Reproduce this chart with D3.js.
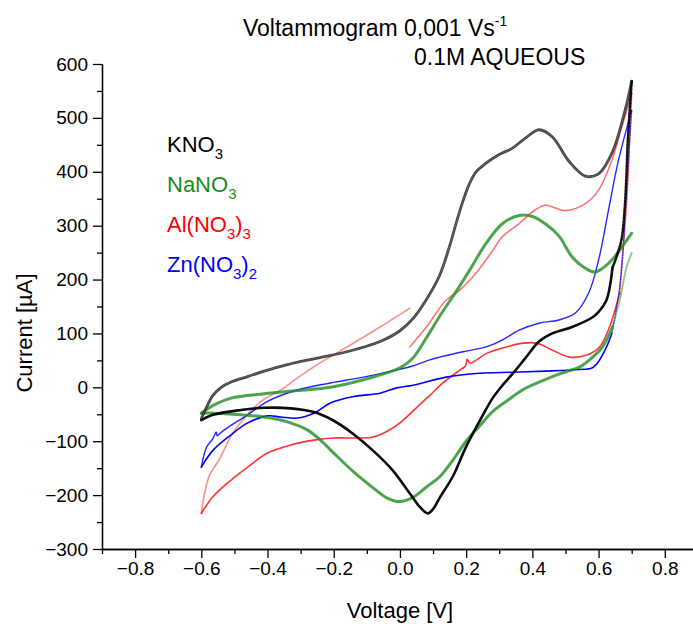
<!DOCTYPE html>
<html><head><meta charset="utf-8">
<script src="https://cdn.jsdelivr.net/npm/d3@7"></script>
<style>body{margin:0;background:#fff} text{font-family:Arial,"Liberation Sans",sans-serif;fill:#000}</style>
</head><body><svg id="c" width="693" height="624"></svg>
<script>
// ---- data (Voltage V, Current µA) ----
const knoForward = [[-0.6,-58],[-0.585,-38],[-0.565,-15],[-0.54,0],[-0.51,10],[-0.46,20],[-0.41,30],[-0.34,42],[-0.26,53],[-0.16,66],[-0.06,85],[0.0,105],[0.04,128],[0.08,163],[0.12,208],[0.15,262],[0.17,305],[0.19,345],[0.21,378],[0.23,400],[0.26,416],[0.3,432],[0.34,444],[0.38,463],[0.42,478],[0.46,465],[0.51,420],[0.56,392],[0.6,396],[0.64,434],[0.68,514],[0.7,568]];
const knoReverse = [[0.7,568],[0.694,514],[0.688,453],[0.684,390],[0.679,333],[0.67,277],[0.658,249],[0.642,222],[0.624,162],[0.6,140],[0.582,130],[0.52,112],[0.46,100],[0.42,85],[0.38,55],[0.34,25],[0.31,4],[0.28,-20],[0.25,-52],[0.2,-110],[0.16,-165],[0.12,-205],[0.1,-226],[0.084,-234],[0.06,-222],[0.03,-197],[-0.022,-154],[-0.082,-117],[-0.142,-86],[-0.2,-62],[-0.26,-46],[-0.33,-39],[-0.41,-38],[-0.48,-42],[-0.565,-51],[-0.6,-61]];
const naForward = [[-0.6,-48],[-0.56,-32],[-0.51,-20],[-0.41,-12],[-0.31,-6],[-0.21,0],[-0.11,14],[-0.04,27],[0.0,36],[0.04,55],[0.08,92],[0.12,132],[0.17,178],[0.21,217],[0.26,267],[0.31,304],[0.36,319],[0.40,317],[0.44,303],[0.48,281],[0.52,242],[0.56,221],[0.59,214],[0.63,230],[0.67,260],[0.70,286]];
const naReverse = [[0.7,249],[0.685,224],[0.664,162],[0.642,112],[0.612,75],[0.582,56],[0.543,38],[0.482,25],[0.422,10],[0.37,-5],[0.33,-22],[0.28,-45],[0.24,-72],[0.2,-100],[0.16,-135],[0.12,-166],[0.08,-185],[0.04,-204],[0.0,-212],[-0.04,-205],[-0.08,-187],[-0.14,-157],[-0.2,-122],[-0.24,-98],[-0.28,-79],[-0.34,-64],[-0.41,-55],[-0.48,-51],[-0.56,-48],[-0.6,-48]];
const alForwardA = [[-0.6,-234],[-0.59,-196],[-0.575,-163],[-0.545,-133],[-0.505,-85],[-0.46,-50],[-0.41,-22],[-0.36,-5],[-0.32,13],[-0.26,38],[-0.16,75],[-0.06,112],[0.03,147]];
const alForwardB = [[0.03,75],[0.08,112],[0.14,162],[0.18,180],[0.23,212],[0.28,254],[0.31,280],[0.36,304],[0.41,330],[0.44,338],[0.5,328],[0.56,341],[0.6,366],[0.64,421],[0.67,483],[0.7,545]];
const alReverse = [[0.7,545],[0.695,480],[0.69,400],[0.68,300],[0.67,230],[0.664,175],[0.633,112],[0.603,75],[0.564,60],[0.513,56],[0.461,69],[0.413,82],[0.371,82],[0.322,75],[0.262,63],[0.211,45],[0.203,52],[0.198,40],[0.181,32],[0.129,8],[0.09,-15],[0.06,-32],[0.0,-66],[-0.04,-82],[-0.08,-92],[-0.14,-94],[-0.2,-94],[-0.26,-98],[-0.33,-107],[-0.40,-122],[-0.46,-148],[-0.51,-172],[-0.565,-203],[-0.6,-234]];
const znForward = [[-0.6,-148],[-0.584,-111],[-0.565,-95],[-0.555,-83],[-0.552,-90],[-0.545,-86],[-0.514,-72],[-0.462,-52],[-0.40,-26],[-0.31,-5],[-0.21,8],[-0.11,19],[-0.01,32],[0.04,40],[0.09,51],[0.12,56],[0.19,66],[0.26,75],[0.31,88],[0.36,106],[0.42,119],[0.48,125],[0.53,138],[0.57,175],[0.60,236],[0.63,329],[0.66,421],[0.7,514]];
const znReverse = [[0.7,514],[0.69,420],[0.68,320],[0.67,220],[0.655,150],[0.64,100],[0.624,75],[0.6,48],[0.58,36],[0.54,33],[0.44,30],[0.34,28],[0.24,26],[0.14,19],[0.04,4],[-0.01,-1],[-0.06,-11],[-0.14,-17],[-0.21,-29],[-0.26,-48],[-0.31,-57],[-0.36,-55],[-0.40,-53],[-0.46,-66],[-0.51,-88],[-0.565,-117],[-0.6,-148]];
const xTicks = [-0.8,-0.6,-0.4,-0.2,0.0,0.2,0.4,0.6,0.8];
const xMinor = [-0.9,-0.7,-0.5,-0.3,-0.1,0.1,0.3,0.5,0.7,0.9];
const yTicks = [-300,-200,-100,0,100,200,300,400,500,600];
const yMinor = [-250,-150,-50,50,150,250,350,450,550];

const svg = d3.select("#c");
const x = d3.scaleLinear().domain([-0.9,1.0]).range([102,731]);
const y = d3.scaleLinear().domain([-300,600]).range([549,64]);
const line = d3.line().x(d=>x(d[0])).y(d=>y(d[1])).curve(d3.curveCatmullRom.alpha(0.5));

function draw(data, color, w, op, dash){
  svg.append("path").datum(data).attr("d",line).attr("fill","none")
    .attr("stroke",color).attr("stroke-width",w).attr("stroke-opacity",op)
    .attr("stroke-linejoin","round").attr("stroke-linecap","round")
    .attr("stroke-dasharray",dash||null);
}
// steep return segments drawn dotted
function steep(d){ return d.filter(p=>p[0]>=0.64); }
function rest(d){ const i=d.findIndex(p=>p[0]<0.64); return d.slice(Math.max(0,i-1)); }

draw(alForwardA,"#ff0000",1.6,0.45);
draw(alForwardB,"#ff0000",1.6,0.55);
draw(rest(alReverse),"#ff0000",1.6,0.8);
draw(steep(alReverse),"#ff0000",1.6,0.6,"1.5,1.5");
draw(znForward,"#0000ff",1.4,0.85);
draw(rest(znReverse),"#0000ff",1.6,1);
draw(steep(znReverse),"#0000ff",1.4,0.7,"1.5,1.5");
draw(naForward,"#1f8f1f",3,0.8);
draw(rest(naReverse),"#1f8f1f",3,0.8);
draw(steep(naReverse),"#1f8f1f",2,0.5,"1.5,1.5");
draw(knoForward,"#222",2.8,0.85);
draw(knoForward,"#888",0.7,0.6);
draw(rest(knoReverse),"#000",2.6,0.95);
draw(steep(knoReverse),"#000",2.6,0.9,"2,1.5");

// axes
const fmt = d3.format(".1f");
const gx = svg.append("g").attr("transform","translate(0,549)");
gx.call(d3.axisBottom(x).tickValues(xTicks).tickFormat(fmt).tickSize(9).tickSizeOuter(0).tickPadding(4));
const gxm = svg.append("g").attr("transform","translate(0,549)");
gxm.call(d3.axisBottom(x).tickValues(xMinor).tickFormat("").tickSize(5).tickSizeOuter(0));
const gy = svg.append("g").attr("transform","translate(102,0)");
gy.call(d3.axisLeft(y).tickValues(yTicks).tickSize(9).tickSizeOuter(0).tickPadding(5));
const gym = svg.append("g").attr("transform","translate(102,0)");
gym.call(d3.axisLeft(y).tickValues(yMinor).tickFormat("").tickSize(5).tickSizeOuter(0));
svg.selectAll(".domain").attr("stroke","#000").attr("stroke-width",1.3);
svg.selectAll(".tick line").attr("stroke","#000").attr("stroke-width",1.3);
svg.selectAll(".tick text").style("font-size","19px").style("font-family","Arial, 'Liberation Sans', sans-serif").attr("fill","#000");

// axis titles
svg.append("text").attr("x",400).attr("y",618).attr("text-anchor","middle").style("font-size","22px").text("Voltage [V]");
svg.append("text").attr("transform","translate(32,333) rotate(-90)").attr("text-anchor","middle").style("font-size","22px").text("Current [µA]");

// title
const t1 = svg.append("text").attr("x",243).attr("y",36).style("font-size","23px");
t1.append("tspan").text("Voltammogram 0,001 Vs");
t1.append("tspan").attr("dy",-10).style("font-size","14px").text("-1");
svg.append("text").attr("x",414).attr("y",65).style("font-size","23px").text("0.1M AQUEOUS");

// legend
const legend = [
  {parts:[["KNO",0],["3",1]], color:"#000"},
  {parts:[["NaNO",0],["3",1]], color:"#1a8c1a"},
  {parts:[["Al(NO",0],["3",1],[")",0],["3",1]], color:"#ff0000"},
  {parts:[["Zn(NO",0],["3",1],[")",0],["2",1]], color:"#0000ff"}
];
legend.forEach((l,i)=>{
  const t = svg.append("text").attr("x",167).attr("y",152+i*40).style("font-size","22px").style("fill",l.color);
  let prev=0;
  l.parts.forEach(p=>{
    const ts=t.append("tspan").text(p[0]).style("fill",l.color);
    const dy=(p[1]?7:0)-prev; if(dy) ts.attr("dy",dy);
    if(p[1]) ts.style("font-size","15px");
    prev=p[1]?7:0;
  });
});
</script></body></html>
